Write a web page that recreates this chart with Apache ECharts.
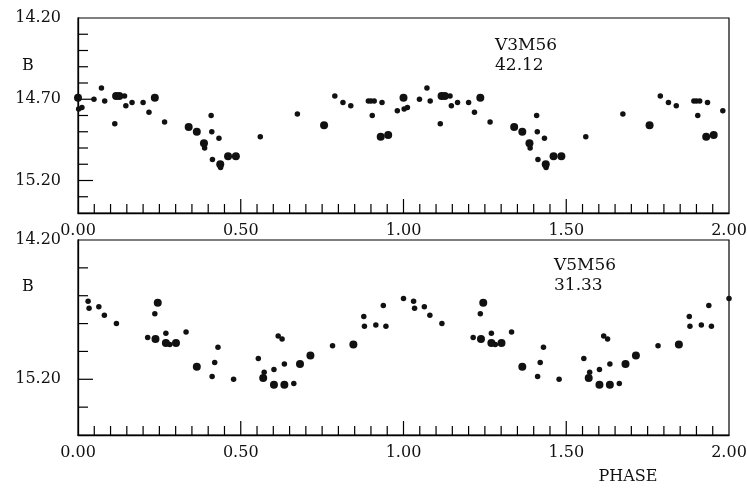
<!DOCTYPE html>
<html><head><meta charset="utf-8">
<script src="https://cdn.jsdelivr.net/npm/echarts@6/dist/echarts.min.js"></script>
<style>html,body{margin:0;padding:0;background:#fff;overflow:hidden}#c{width:790px;height:489px}</style>
</head><body><div id="c"></div>
<script>
// ---- V3M56 (top panel), phases 0..1 (plotted twice, phase and phase+1) ----
const v3BigPhase   = [0.000,0.117,0.127,0.236,0.340,0.365,0.387,0.437,0.461,0.485,0.756,0.930,0.953];
const v3BigMag     = [14.69,14.68,14.68,14.69,14.87,14.90,14.97,15.10,15.05,15.05,14.86,14.93,14.92];
const v3SmallPhase = [0.002,0.012,0.049,0.072,0.082,0.113,0.143,0.147,0.166,0.200,0.218,0.266,0.389,0.409,0.411,0.413,0.433,0.438,0.560,0.674,0.789,0.814,0.838,0.892,0.900,0.910,0.904,0.934,0.981];
const v3SmallMag   = [14.76,14.75,14.70,14.63,14.71,14.85,14.68,14.74,14.72,14.72,14.78,14.84,15.00,14.80,14.90,15.07,14.94,15.12,14.93,14.79,14.68,14.72,14.74,14.71,14.71,14.71,14.80,14.72,14.77];

// ---- V5M56 (bottom panel) ----
const v5BigPhase   = [0.245,0.238,0.270,0.301,0.365,0.569,0.602,0.634,0.682,0.714,0.846];
const v5BigMag     = [14.65,14.91,14.94,14.94,15.11,15.19,15.24,15.24,15.09,15.03,14.95];
const v5SmallPhase = [0.031,0.034,0.064,0.081,0.118,0.214,0.236,0.270,0.282,0.332,0.412,0.420,0.430,0.478,0.554,0.572,0.602,0.615,0.627,0.634,0.663,0.782,0.878,0.880,0.915,0.938,0.946,1.000];
const v5SmallMag   = [14.64,14.69,14.68,14.74,14.80,14.90,14.73,14.87,14.95,14.86,15.18,15.08,14.97,15.20,15.05,15.15,15.13,14.89,14.91,15.09,15.23,14.96,14.75,14.82,14.81,14.67,14.82,14.62];

// ---- axis settings ----
const phaseMin = 0, phaseMax = 2, xTickStep = 0.05, xMajorStep = 0.5;
const topMagMin = 14.20, topMagMax = 15.40, topTickStep = 0.1, topMajorStep = 0.5;
const botMagMin = 14.20, botMagMax = 15.60, botTickStep = 0.2, botMajorStep = 1.0;
const labels = { top: ['V3M56', '42.12'], bottom: ['V5M56', '31.33'], yName: 'B', xName: 'PHASE' };

function folded(ph, mg) {
  const out = [];
  for (let k = 0; k < 2; k++) for (let i = 0; i < ph.length; i++) out.push([+(ph[i] + k).toFixed(3), mg[i]]);
  return out;
}
function isMajor(v, base, step) { const r = (v - base) / step; return Math.abs(r - Math.round(r)) < 1e-6; }

// tick positions along the axes (kind: 0 x-minor, 1 x-major, 2 y-minor, 3 y-major, 4 frame)
function tickItems(yMin, yMax, yStep, yMajor) {
  const items = [];
  const nx = Math.round((phaseMax - phaseMin) / xTickStep);
  for (let i = 1; i < nx; i++) {
    const v = +(phaseMin + i * xTickStep).toFixed(3);
    items.push([v, yMax, isMajor(v, phaseMin, xMajorStep) ? 1 : 0]);
  }
  const ny = Math.round((yMax - yMin) / yStep);
  for (let i = 1; i < ny; i++) {
    const v = +(yMin + i * yStep).toFixed(3);
    items.push([phaseMin, v, isMajor(v, yMin, yMajor) ? 3 : 2]);
  }
  items.push([phaseMin, yMin, 4]);
  return items;
}

const FONT = 'DejaVu Serif';
const INK = '#000';
const TICK_LEN = [9, 14, 10, 15];
const txt = { fontFamily: FONT, fontSize: 16, color: '#111' };

function makeRender(yMin, yMax) {
  return function (params, api) {
    const kind = api.value(2);
    const st = { stroke: INK, lineWidth: 1.2, fill: 'none' };
    if (kind === 4) {
      const a = api.coord([phaseMin, yMin]);
      const b = api.coord([phaseMax, yMax]);
      return { type: 'rect', shape: { x: a[0], y: a[1], width: b[0] - a[0], height: b[1] - a[1] }, style: st };
    }
    const p = api.coord([api.value(0), api.value(1)]);
    const L = TICK_LEN[kind];
    if (kind < 2) return { type: 'line', shape: { x1: p[0], y1: p[1], x2: p[0], y2: p[1] - L }, style: st };
    return { type: 'line', shape: { x1: p[0], y1: p[1], x2: p[0] + L, y2: p[1] }, style: st };
  };
}

function xAxis(gi) {
  return { gridIndex: gi, type: 'value', min: phaseMin, max: phaseMax, interval: xMajorStep,
    axisLine: { show: true, onZero: false, lineStyle: { color: INK, width: 1.3 } },
    axisTick: { show: false }, minorTick: { show: false },
    axisLabel: Object.assign({ show: true, margin: 10, formatter: v => v.toFixed(2) }, txt),
    splitLine: { show: false }, minorSplitLine: { show: false } };
}
function yAxis(gi, mn, mx, major) {
  return { gridIndex: gi, type: 'value', inverse: true, min: mn, max: mx, interval: major,
    axisLine: { show: true, onZero: false, lineStyle: { color: INK, width: 1.3 } },
    axisTick: { show: false }, minorTick: { show: false },
    axisLabel: Object.assign({ show: true, margin: 17, showMaxLabel: false, formatter: v => v.toFixed(2) }, txt),
    splitLine: { show: false }, minorSplitLine: { show: false } };
}
function sc(data, size, gi) {
  return { type: 'scatter', data, symbol: 'circle', symbolSize: size, xAxisIndex: gi, yAxisIndex: gi, z: 3,
           itemStyle: { color: '#111', opacity: 1 }, silent: true };
}
function ticks(gi, yMin, yMax, yStep, yMajor) {
  return { type: 'custom', coordinateSystem: 'cartesian2d', xAxisIndex: gi, yAxisIndex: gi, z: 2,
           clip: false, silent: true, encode: { x: 0, y: 1 },
           data: tickItems(yMin, yMax, yStep, yMajor), renderItem: makeRender(yMin, yMax) };
}

const chart = echarts.init(document.getElementById('c'), null, { renderer: 'canvas' });
chart.setOption({
  animation: false,
  backgroundColor: '#fff',
  grid: [
    { left: 78, top: 18, width: 651, height: 195, show: false },
    { left: 78, top: 240, width: 651, height: 195, show: false }
  ],
  xAxis: [xAxis(0), xAxis(1)],
  yAxis: [yAxis(0, topMagMin, topMagMax, topMajorStep), yAxis(1, botMagMin, botMagMax, botMajorStep)],
  series: [
    ticks(0, topMagMin, topMagMax, topTickStep, topMajorStep),
    ticks(1, botMagMin, botMagMax, botTickStep, botMajorStep),
    sc(folded(v3SmallPhase, v3SmallMag), 5.5, 0),
    sc(folded(v3BigPhase, v3BigMag), 8, 0),
    sc(folded(v5SmallPhase, v5SmallMag), 5.5, 1),
    sc(folded(v5BigPhase, v5BigMag), 8, 1)
  ],
  graphic: [
    { type: 'text', x: 28, y: 66, style: { text: labels.yName, align: 'center', verticalAlign: 'middle', fill: '#111', font: '16px "DejaVu Serif"' } },
    { type: 'text', x: 28, y: 287, style: { text: labels.yName, align: 'center', verticalAlign: 'middle', fill: '#111', font: '16px "DejaVu Serif"' } },
    { type: 'text', x: 495, y: 36, style: { text: labels.top.join('\n'), lineHeight: 19.5, align: 'left', verticalAlign: 'top', fill: '#111', font: '17px "DejaVu Serif"' } },
    { type: 'text', x: 554, y: 256, style: { text: labels.bottom.join('\n'), lineHeight: 19.5, align: 'left', verticalAlign: 'top', fill: '#111', font: '17px "DejaVu Serif"' } },
    { type: 'text', x: 628, y: 477, style: { text: labels.xName, align: 'center', verticalAlign: 'middle', fill: '#111', font: '16px "DejaVu Serif"' } }
  ]
});
</script>
</body></html>
